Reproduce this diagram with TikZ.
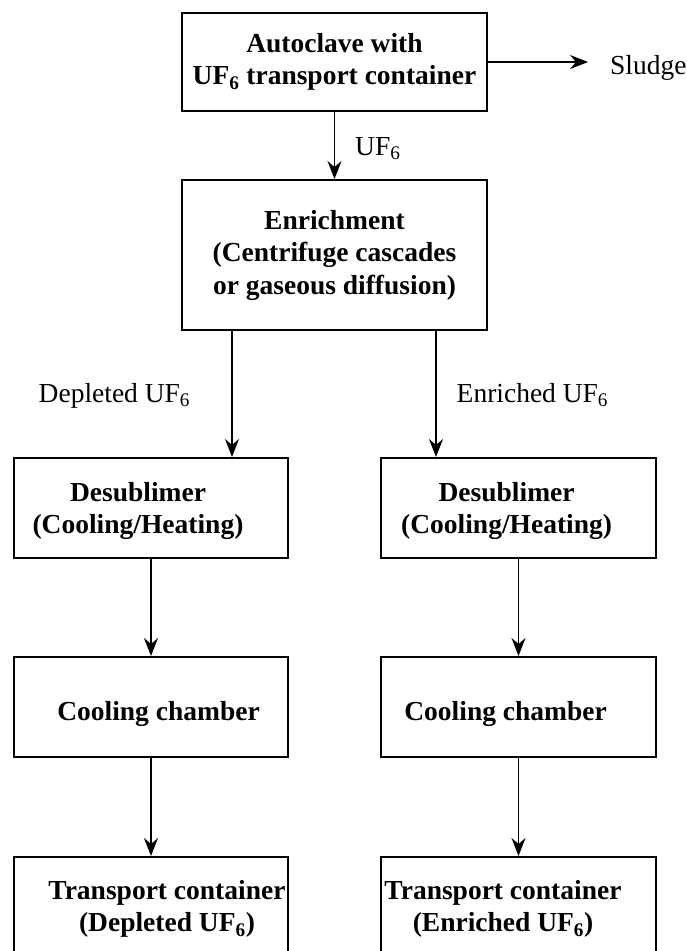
\documentclass[tikz,border=0pt]{standalone}
\usepackage{fontspec}
\setmainfont{Liberation Serif}
\usetikzlibrary{arrows.meta}
\begin{document}
\begin{tikzpicture}[x=1pt, y=-1pt,
  box/.style={draw, line width=2pt, rectangle, inner sep=0pt},
  boxtext/.style={font=\fontsize{27.5}{32.5}\selectfont\bfseries, align=center, inner sep=0pt},
  lbl/.style={font=\fontsize{27.5}{32.5}\selectfont, inner sep=0pt, anchor=base west},
  flow/.style={line width=1.6pt, -{Stealth[length=18pt,width=14pt,inset=6pt]}}]
  \clip (0,0) rectangle (686,951);

  % top of the process
  \node[box, boxtext, minimum width=305pt, minimum height=98pt] (auto) at (334.5,62)
    {Autoclave with\\UF\textsubscript{6} transport container};
  \node[box, boxtext, minimum width=305pt, minimum height=150pt] (enr) at (334.5,255)
    {Enrichment\\(Centrifuge cascades\\or gaseous diffusion)};

  \coordinate (sl) at (588,62);
  \node[lbl] (sludge) at (610,74) {Sludge};
  \draw[flow] (auto.east) -- (sl);
  \draw[flow] (auto.south) -- (enr.north);
  \node[lbl] (uf) at (355,155) {UF\textsubscript{6}};

  % depleted branch
  \node[box, minimum width=274pt, minimum height=100pt] (desL) at (151,508) {};
  \node[box, minimum width=274pt, minimum height=100pt] (coolL) at (151,707) {};
  \node[box, minimum width=274pt, minimum height=143pt] (trL) at (151,928.5) {};
  \node[boxtext] (desLt) at (138,511) {Desublimer\\(Cooling/Heating)};
  \node[boxtext] (coolLt) at (158.5,713.5) {Cooling chamber};
  \node[boxtext] (trLt) at (167,909) {Transport container\\(Depleted UF\textsubscript{6})};

  % enriched branch
  \node[box, minimum width=275pt, minimum height=100pt] (desR) at (518.5,508) {};
  \node[box, minimum width=275pt, minimum height=100pt] (coolR) at (518.5,707) {};
  \node[box, minimum width=275pt, minimum height=143pt] (trR) at (518.5,928.5) {};
  \node[boxtext] (desRt) at (506.6,511) {Desublimer\\(Cooling/Heating)};
  \node[boxtext] (coolRt) at (505.6,713.5) {Cooling chamber};
  \node[boxtext] (trRt) at (503,909) {Transport container\\(Enriched UF\textsubscript{6})};

  % split of the enrichment output
  \coordinate (xL) at (232,0);
  \coordinate (xR) at (436,0);
  \draw[flow] (enr.south -| xL) -- (desL.north -| xL);
  \draw[flow] (enr.south -| xR) -- (desR.north -| xR);
  \node[lbl] (dep) at (38.5,402.7) {Depleted UF\textsubscript{6}};
  \node[lbl] (enrl) at (456.5,402.7) {Enriched UF\textsubscript{6}};

  \draw[flow] (desL.south) -- (coolL.north);
  \draw[flow] (coolL.south) -- (trL.north);
  \draw[flow] (desR.south) -- (coolR.north);
  \draw[flow] (coolR.south) -- (trR.north);
\end{tikzpicture}
\end{document}
